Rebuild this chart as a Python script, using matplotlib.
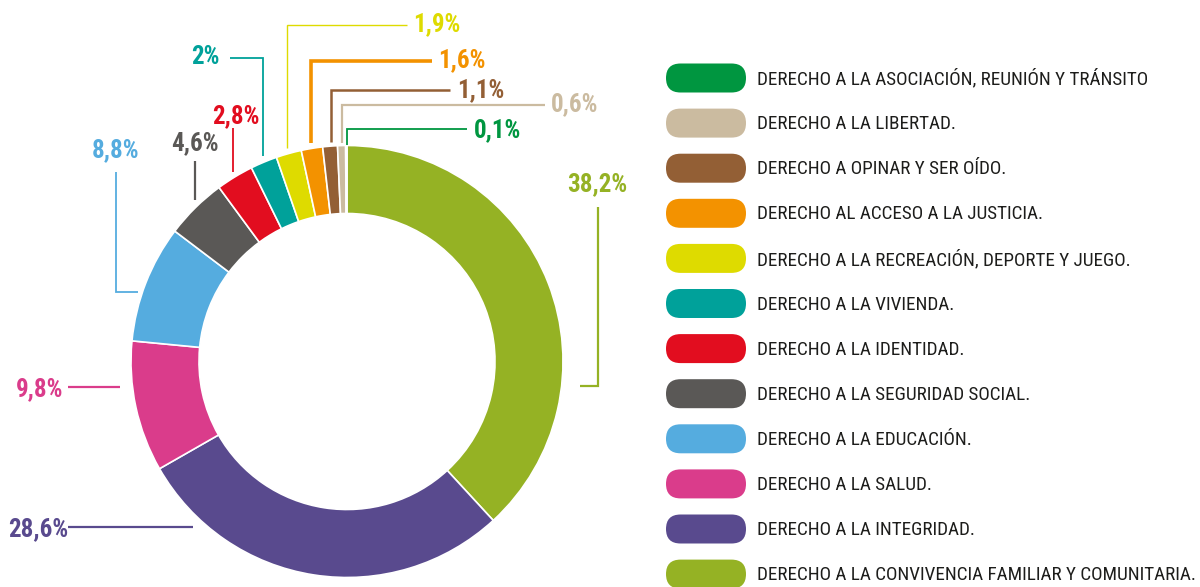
import matplotlib.pyplot as plt
from matplotlib.patches import FancyBboxPatch

# data, clockwise from the top of the ring
derechos = [
    "DERECHO A LA CONVIVENCIA FAMILIAR Y COMUNITARIA.",
    "DERECHO A LA INTEGRIDAD.",
    "DERECHO A LA SALUD.",
    "DERECHO A LA EDUCACIÓN.",
    "DERECHO A LA SEGURIDAD SOCIAL.",
    "DERECHO A LA IDENTIDAD.",
    "DERECHO A LA VIVIENDA.",
    "DERECHO A LA RECREACIÓN, DEPORTE Y JUEGO.",
    "DERECHO AL ACCESO A LA JUSTICIA.",
    "DERECHO A OPINAR Y SER OÍDO.",
    "DERECHO A LA LIBERTAD.",
    "DERECHO A LA ASOCIACIÓN, REUNIÓN Y TRÁNSITO",
]
porcentajes = [38.2, 28.6, 9.8, 8.8, 4.6, 2.8, 2.0, 1.9, 1.6, 1.1, 0.6, 0.1]
etiquetas = ["38,2%", "28,6%", "9,8%", "8,8%", "4,6%", "2,8%", "2%",
             "1,9%", "1,6%", "1,1%", "0,6%", "0,1%"]
colores = ["#95B224", "#594A8E", "#DA3C8B", "#55ACDF", "#5A5856", "#E20D1F",
           "#00A19A", "#DEDB00", "#F39200", "#935F35", "#CBBBA0", "#009640"]

W, H = 1200, 587
plt.rcParams['font.family'] = ['Roboto Condensed', 'DejaVu Sans']
plt.rcParams['font.stretch'] = 'condensed'

fig = plt.figure(figsize=(W / 100, H / 100), dpi=100)
ax = fig.add_axes([0, 0, 1, 1])

def Y(y):
    # picture rows -> axis units (y up)
    return H - y

cx, cy, r = 347, 361.5, 216
ax.pie(porcentajes, colors=colores, startangle=90, counterclock=False,
       radius=r, center=(cx, Y(cy)), frame=True,
       wedgeprops=dict(width=68, edgecolor="white", linewidth=1.2))

# leader lines (picture coords) and label anchors
guias = [
    ([(580, 386), (598, 386), (598, 207)], (597, 184), "center", 1.6),
    ([(193, 527), (68, 527)], (68, 529), "right", 1.6),
    ([(120, 387), (68, 387)], (63, 389), "right", 1.6),
    ([(138, 292), (116, 292), (116, 172)], (116, 150), "center", 1.3),
    ([(195, 200), (195, 161)], (195, 143), "center", 1.6),
    ([(233, 172), (233, 128)], (236, 116), "center", 1.3),
    ([(263, 156), (263, 58), (230, 58)], (220, 57), "right", 1.3),
    ([(287, 148), (287, 25), (407, 25)], (413, 24), "left", 1.0),
    ([(311, 143), (311, 61), (432, 61)], (438, 60), "left", 2.6),
    ([(331, 142), (331, 90), (450, 90)], (457, 90), "left", 1.8),
    ([(342, 143), (342, 105), (545, 105)], (551, 104), "left", 1.6),
    ([(347, 145), (347, 129), (467, 129)], (474, 130), "left", 1.3),
]
for (pts, (tx, ty), ha, lw), lab, col in zip(guias, etiquetas, colores):
    ax.plot([p[0] for p in pts], [Y(p[1]) for p in pts], color=col, lw=lw,
            solid_capstyle="butt", solid_joinstyle="miter")
    ax.text(tx, Y(ty), lab, color=col, fontsize=18, fontweight="bold",
            ha=ha, va="center")

# legend: pills + text, top row is the last slice
y0, paso = 78, 45.1
for i, (nombre, col) in enumerate(zip(derechos[::-1], colores[::-1])):
    yc = y0 + i * paso
    ax.add_patch(FancyBboxPatch((666, Y(yc) - 14.5), 80, 29,
                                boxstyle="round,pad=0,rounding_size=14.5",
                                fc=col, ec="none"))
    ax.text(757, Y(yc) - 1, nombre, fontsize=13.8,
            color="#1d1d1b", ha="left", va="center")

ax.set_xlim(0, W)
ax.set_ylim(0, H)
ax.set_aspect("auto")
ax.axis("off")
fig.savefig("out.png", dpi=100)
